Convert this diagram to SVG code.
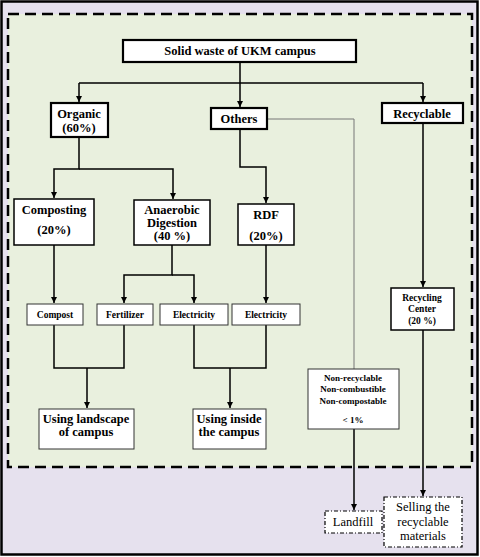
<svg xmlns="http://www.w3.org/2000/svg" width="480" height="557" viewBox="0 0 480 557">
<defs>
<marker id="ah" viewBox="0 0 8 8" refX="8" refY="4" markerWidth="6" markerHeight="6" markerUnits="userSpaceOnUse" orient="auto"><path d="M0,0 L8,4 L0,8 z" fill="#000"/></marker>
<style>
text{font-family:'Liberation Serif','Times New Roman','DejaVu Serif',serif;fill:#000;text-anchor:middle}
.t{font-weight:bold}
.bx{fill:#fff;stroke:#000}
.th{stroke-width:2.2}
.md{stroke-width:1.5}
.tn{stroke-width:1;stroke:#333}
.dd{fill:#fff;stroke:#000;stroke-width:1.2;stroke-dasharray:4,2,1,2}
.c{fill:none;stroke:#000;stroke-width:1.5}
</style>
</defs>
<rect x="1.5" y="1.5" width="476" height="553" fill="#e6e1ee" stroke="#000" stroke-width="2.5"/>
<rect x="8" y="14" width="464" height="453" fill="#e9f0de" stroke="#000" stroke-width="2.5" stroke-dasharray="11,6"/>
<g id="connectors">
<path class="c" d="M79,83 H423"/>
<path class="c" d="M79,83 V102" marker-end="url(#ah)"/>
<path class="c" d="M423,83 V102" marker-end="url(#ah)"/>
<path class="c" d="M240,62 V107" marker-end="url(#ah)"/>
<path d="M268,119 H354 V369" fill="none" stroke="#777" stroke-width="1"/>
<path class="c" d="M79,137 V169 H54 V198" marker-end="url(#ah)"/>
<path class="c" d="M79,169 H173 V199" marker-end="url(#ah)"/>
<path class="c" d="M240,129 V167 H266 V203" marker-end="url(#ah)"/>
<path class="c" d="M54,245 V303" marker-end="url(#ah)"/>
<path class="c" d="M172,245 V275 H124 V303" marker-end="url(#ah)"/>
<path class="c" d="M172,275 H194 V303" marker-end="url(#ah)"/>
<path class="c" d="M266,245 V303" marker-end="url(#ah)"/>
<path class="c" d="M423,123 V287" marker-end="url(#ah)"/>
<path class="c" d="M54,325 V368 H124 V325"/>
<path class="c" d="M87,368 V408" marker-end="url(#ah)"/>
<path class="c" d="M194,325 V368 H266 V325"/>
<path class="c" d="M230,368 V408" marker-end="url(#ah)"/>
<path class="c" d="M354,429 V510" stroke-width="2" marker-end="url(#ah)"/>
<path class="c" d="M423,330 V496" stroke-width="2" marker-end="url(#ah)"/>
</g>
<g id="solid-waste"><rect class="bx th" x="123" y="40" width="233" height="22"/><text class="t" x="240" y="55" font-size="12.5">Solid waste of UKM campus</text></g>
<g id="organic"><rect class="bx th" x="51" y="103" width="57" height="34"/><text class="t" x="79" y="118" font-size="12.5">Organic</text><text class="t" x="79" y="132" font-size="12.5">(60%)</text></g>
<g id="others"><rect class="bx th" x="211" y="108" width="56" height="21"/><text class="t" x="239" y="123" font-size="12.5">Others</text></g>
<g id="recyclable"><rect class="bx th" x="382" y="103" width="81" height="20"/><text class="t" x="422" y="118" font-size="12.5">Recyclable</text></g>
<g id="composting"><rect class="bx md" x="14" y="199" width="80" height="46"/><text class="t" x="54" y="214" font-size="12.5">Composting</text><text class="t" x="54" y="234" font-size="12.5">(20%)</text></g>
<g id="anaerobic"><rect class="bx md" x="134" y="200" width="76" height="45"/><text class="t" x="172" y="214" font-size="12.5">Anaerobic</text><text class="t" x="172" y="227" font-size="12.5">Digestion</text><text class="t" x="172" y="240" font-size="12.5">(40 %)</text></g>
<g id="rdf"><rect class="bx md" x="238" y="204" width="56" height="41"/><text class="t" x="266" y="219" font-size="12.5">RDF</text><text class="t" x="266" y="240" font-size="12.5">(20%)</text></g>
<g id="compost"><rect class="bx tn" x="27" y="304" width="56" height="21"/><text class="t" x="55" y="318" font-size="9.5">Compost</text></g>
<g id="fertilizer"><rect class="bx tn" x="97" y="304" width="56" height="21"/><text class="t" x="125" y="318" font-size="9.5">Fertilizer</text></g>
<g id="electricity1"><rect class="bx tn" x="160" y="304" width="68" height="21"/><text class="t" x="194" y="318" font-size="9.5">Electricity</text></g>
<g id="electricity2"><rect class="bx tn" x="232" y="304" width="68" height="21"/><text class="t" x="266" y="318" font-size="9.5">Electricity</text></g>
<g id="recycling-center"><rect class="bx md" x="391" y="288" width="63" height="42"/><text class="t" x="422" y="301" font-size="9.5">Recycling</text><text class="t" x="422" y="312" font-size="9.5">Center</text><text class="t" x="422" y="324" font-size="9.5">(20 %)</text></g>
<g id="using-landscape"><rect class="bx tn" x="39" y="409" width="95" height="40"/><text class="t" x="86" y="423" font-size="12.5">Using landscape</text><text class="t" x="86" y="436" font-size="12.5">of campus</text></g>
<g id="using-inside"><rect class="bx tn" x="193" y="409" width="73" height="40"/><text class="t" x="229" y="423" font-size="12.5">Using inside</text><text class="t" x="229" y="436" font-size="12.5">the campus</text></g>
<g id="non-recyclable"><rect class="bx tn" x="308" y="369" width="91" height="60"/><text class="t" x="353" y="381" font-size="9">Non-recyclable</text><text class="t" x="353" y="392" font-size="9">Non-combustible</text><text class="t" x="353" y="404" font-size="9">Non-compostable</text><text class="t" x="353" y="423" font-size="9">&lt; 1%</text></g>
<g id="landfill"><rect class="dd" x="325" y="511" width="57" height="22"/><text x="353" y="526" font-size="12.5">Landfill</text></g>
<g id="selling"><rect class="dd" x="384" y="497" width="78" height="50"/><text x="423" y="511" font-size="12.5">Selling the</text><text x="423" y="526" font-size="12.5">recyclable</text><text x="423" y="540" font-size="12.5">materials</text></g>
</svg>
